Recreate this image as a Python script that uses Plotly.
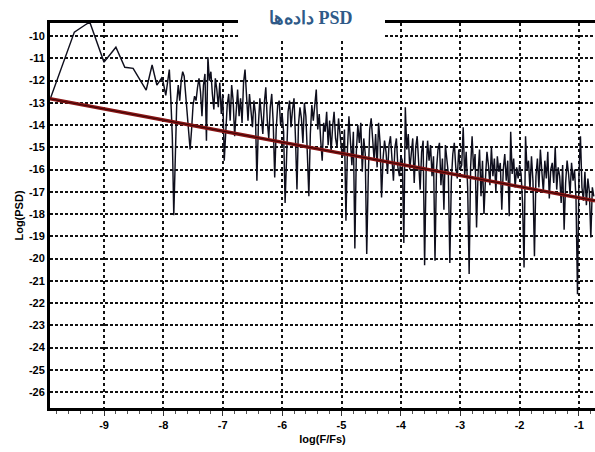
import plotly.graph_objects as go

# ---- data ----
# sparse low-frequency part: explicit (log(F/Fs), log(PSD)) pairs
low_x = [-9.91, -9.5, -9.32, -9.24, -9.0, -8.8, -8.65, -8.51, -8.29, -8.19,
         -8.11, -8.02, -7.96, -7.9]
low_y = [-12.85, -9.82, -9.5, -9.37, -11.17, -10.5, -11.4, -11.45, -12.43, -11.3,
         -12.2, -11.85, -12.66, -11.5]

# dense part: bins from -7.875 in steps of 0.025
dense_start = -7.875
dense_step = 0.025
dense_y = [
    # -7.875 .. -7.0
    -12.8, -14.5, -18.05, -15.2, -13.0, -12.2, -12.9, -12.0, -11.6, -11.8,
    -12.6, -13.4, -14.0, -15.1, -14.2, -13.1, -12.7, -12.9, -12.3, -11.9,
    -12.5, -13.6, -12.2, -11.7, -14.7, -10.95, -12.0, -11.6, -12.6, -13.3,
    -11.9, -12.4, -13.2, -12.1, -13.5, -12.6,
    # -6.975 .. -6.0
    -15.6, -14.2, -13.1, -12.6, -13.8, -12.2, -12.9, -14.5, -13.2, -12.4,
    -13.6, -12.8, -13.9, -12.1, -11.5, -12.9, -13.8, -12.6, -13.4, -14.1,
    -12.9, -13.5, -16.5, -14.0, -12.8, -13.6, -14.4, -13.0, -12.3, -13.8,
    -14.6, -13.2, -12.6, -13.9, -16.35, -14.2, -13.1, -12.9, -14.0, -13.5,
    # -5.975 .. -5.0
    -14.3, -17.5, -14.8, -13.4, -12.9, -14.1, -13.3, -12.8, -14.6, -16.9,
    -14.0, -13.2, -13.7, -14.8, -13.0, -13.6, -15.3, -17.2, -14.4, -13.1,
    -13.8, -12.9, -12.4, -14.2, -13.5, -14.7, -15.6, -13.9, -14.3, -13.4,
    -14.9, -13.8, -15.2, -14.1, -13.4, -14.6, -15.0, -13.7, -14.4, -15.1,
    # -4.975 .. -4.0
    -15.4, -14.2, -18.3, -15.1, -13.6, -14.5, -15.8, -14.3, -19.55, -15.2,
    -14.0, -14.8, -13.9, -16.1, -14.6, -15.3, -19.8, -16.4, -14.2, -13.7,
    -14.9, -15.6, -14.4, -15.9, -13.9, -14.8, -17.25, -15.5, -14.7, -15.2,
    -16.2, -14.9, -14.5, -15.8, -16.5, -15.0, -14.6, -15.9, -16.3, -15.4,
    # -3.975 .. -3.0
    -15.6, -19.3, -13.2, -15.1, -14.4, -16.0, -15.3, -14.6, -16.6, -15.0,
    -14.5, -15.8, -16.9, -15.2, -14.7, -20.3, -16.1, -14.7, -15.6, -14.9,
    -16.3, -15.4, -20.1, -16.0, -15.1, -14.8, -16.7, -15.5, -17.8, -14.9,
    -15.6, -16.2, -20.2, -16.5, -15.3, -14.8, -15.9, -16.4, -15.1, -16.0,
    # -2.975 .. -2.0
    -15.8, -14.1, -16.3, -15.2, -16.8, -20.7, -15.9, -14.5, -16.0, -15.3,
    -18.6, -16.2, -15.1, -17.2, -15.6, -18.0, -16.4, -15.2, -15.8, -16.7,
    -15.0, -16.3, -15.5, -17.0, -15.4, -16.1, -15.7, -17.8, -16.0, -15.3,
    -16.5, -15.6, -18.1, -14.3, -16.2, -15.5, -16.8, -15.9, -16.4, -15.8,
    # -1.975 .. -0.75
    -16.2, -17.5, -20.4, -14.5, -16.0, -15.6, -16.9, -15.4, -16.5, -19.9,
    -16.3, -15.5, -16.8, -15.1, -16.1, -17.0, -15.6, -16.4, -15.2, -17.3,
    -16.0, -15.7, -16.6, -15.0, -16.9, -15.9, -16.3, -17.5, -15.8, -18.7,
    -16.6, -15.6, -16.2, -17.1, -15.7, -16.5, -16.0, -17.3, -21.6, -16.2,
    -14.5, -16.8, -17.4, -16.1, -17.6, -16.4, -17.0, -19.05, -16.8, -17.2,
]

# fitted trend line end points
trend_x = [-9.91, -0.73]
trend_y = [-12.82, -17.4]

x_ticks = [-9, -8, -7, -6, -5, -4, -3, -2, -1]
y_ticks = list(range(-26, -9))

title_text = "داده‌ها PSD"
x_title = "log(F/Fs)"
y_title = "Log(PSD)"

# ---- build ----
dense_x = [round(dense_start + i * dense_step, 4) for i in range(len(dense_y))]
psd_x = low_x + dense_x
psd_y = low_y + dense_y

fig = go.Figure()
fig.add_trace(go.Scatter(x=psd_x, y=psd_y, mode="lines",
                         line=dict(color="#0e0e1c", width=1.45),
                         showlegend=False, hoverinfo="skip"))
fig.add_trace(go.Scatter(x=trend_x, y=trend_y, mode="lines",
                         line=dict(color="#8a1515", width=3.5),
                         showlegend=False, hoverinfo="skip"))
fig.add_trace(go.Scatter(x=trend_x, y=trend_y, mode="lines",
                         line=dict(color="#3a0606", width=1),
                         showlegend=False, hoverinfo="skip"))

tick_font = dict(family="Liberation Sans, Arial, sans-serif", size=11,
                 color="black", weight="bold")

fig.update_layout(
    width=595, height=452,
    margin=dict(l=50, r=0, t=23, b=44),
    paper_bgcolor="white", plot_bgcolor="white",
    showlegend=False,
    xaxis=dict(
        range=[-9.91, -0.73], tickvals=x_ticks,
        ticktext=[str(v) for v in x_ticks],
        showgrid=True, gridcolor="#111111", gridwidth=1.5, griddash="3px,3px",
        zeroline=False, showline=True, linecolor="black", linewidth=3,
        mirror=True, ticks="outside", ticklen=5, tickwidth=1.2,
        tickcolor="#333",
        minor=dict(ticks="outside", dtick=0.2, ticklen=3, tickwidth=1,
                   tickcolor="#555", showgrid=False),
        tickfont=tick_font,
        title=dict(text=x_title, font=tick_font, standoff=6),
    ),
    yaxis=dict(
        range=[-26.72, -9.41], tickvals=y_ticks,
        ticktext=[str(v) for v in y_ticks],
        showgrid=True, gridcolor="#111111", gridwidth=1.5, griddash="3px,2px",
        zeroline=False, showline=True, linecolor="black", linewidth=3,
        mirror=False, ticks="", tickfont=tick_font,
        title=dict(text=y_title, font=tick_font, standoff=4),
    ),
    shapes=[dict(type="rect", xref="paper", yref="paper",
                 x0=(238 - 50) / 545, x1=(385 - 50) / 545,
                 y0=1 - (40 - 23) / 385, y1=1 + 20 / 385,
                 fillcolor="white", line=dict(width=0), layer="above")],
    annotations=[dict(text=title_text, xref="paper", yref="paper",
                      x=(311 - 50) / 545, y=1 + 5 / 385,
                      xanchor="center", yanchor="middle", showarrow=False,
                      font=dict(family="Liberation Serif, Times New Roman, serif",
                                size=18, color="#2f5a88", weight="bold"))],
)

fig.write_html("out.html")
